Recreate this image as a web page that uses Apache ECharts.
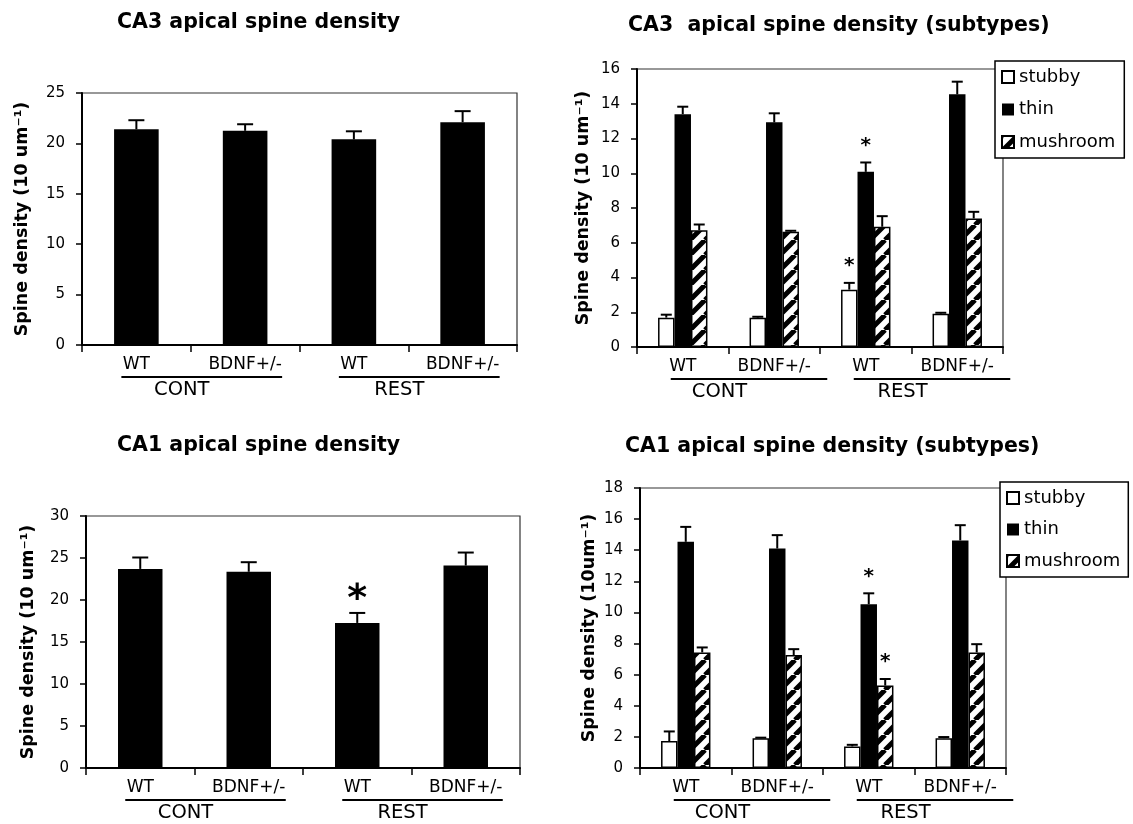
<!DOCTYPE html>
<html><head><meta charset="utf-8">
<script src="https://cdn.jsdelivr.net/npm/echarts@6/dist/echarts.min.js"></script>
<style>html,body{margin:0;padding:0;background:#fff}#c{width:1133px;height:824px}</style>
</head><body><div id="c"></div>
<script>
// ---------- DATA ----------
const categories = ['WT', 'BDNF+/-', 'WT', 'BDNF+/-'];
const groups = ['CONT', 'REST'];
const subtypeNames = ['stubby', 'thin', 'mushroom'];

// CA3 apical spine density
const ca3Mean = [21.4, 21.25, 20.4, 22.1];
const ca3Err  = [0.9, 0.65, 0.8, 1.1];
const ca3Sig  = [0, 0, 0, 0];

// CA3 subtypes
const ca3StubbyMean = [1.69, 1.69, 3.30, 1.92];
const ca3StubbyErr  = [0.17, 0.05, 0.39, 0.05];
const ca3StubbySig  = [0, 0, 1, 0];
const ca3ThinMean   = [13.4, 12.93, 10.08, 14.54];
const ca3ThinErr    = [0.43, 0.52, 0.54, 0.73];
const ca3ThinSig    = [0, 0, 1, 0];
const ca3MushMean   = [6.72, 6.63, 6.92, 7.40];
const ca3MushErr    = [0.33, 0.06, 0.61, 0.38];
const ca3MushSig    = [0, 0, 0, 0];

// CA1 apical spine density
const ca1Mean = [23.7, 23.36, 17.27, 24.1];
const ca1Err  = [1.36, 1.14, 1.19, 1.55];
const ca1Sig  = [0, 0, 1, 0];

// CA1 subtypes
const ca1StubbyMean = [1.73, 1.92, 1.39, 1.92];
const ca1StubbyErr  = [0.62, 0.03, 0.10, 0.07];
const ca1StubbySig  = [0, 0, 0, 0];
const ca1ThinMean   = [14.54, 14.11, 10.53, 14.63];
const ca1ThinErr    = [0.96, 0.86, 0.70, 0.98];
const ca1ThinSig    = [0, 0, 1, 0];
const ca1MushMean   = [7.43, 7.26, 5.30, 7.43];
const ca1MushErr    = [0.32, 0.38, 0.42, 0.53];
const ca1MushSig    = [0, 0, 1, 0];

// axis ticks
const ca3Axis = {max: 25, interval: 5};
const ca3SubAxis = {max: 16, interval: 2};
const ca1Axis = {max: 30, interval: 5};
const ca1SubAxis = {max: 18, interval: 2};

// ---------- STYLE ----------
const FONT = 'DejaVu Sans';
function hatchCanvas() {
  const s = 15, c = document.createElement('canvas');
  c.width = s; c.height = s;
  const g = c.getContext('2d');
  g.fillStyle = '#fff'; g.fillRect(0, 0, s, s);
  g.strokeStyle = '#000'; g.lineWidth = 5;
  g.beginPath();
  for (let k = -1; k <= 1; k++) { g.moveTo(k * s, s); g.lineTo(k * s + s, 0); }
  g.stroke();
  return c;
}
const hatch = {image: hatchCanvas(), repeat: 'repeat'};

const grids = [
  {left: 82, top: 93, width: 435, height: 252},
  {left: 637, top: 69, width: 366, height: 278},
  {left: 86, top: 516, width: 434, height: 252},
  {left: 640, top: 488, width: 366, height: 280}
];
const yNames = ['Spine density (10 um\u207B\u00B9)', 'Spine density (10 um\u207B\u00B9)',
                'Spine density (10 um\u207B\u00B9)', 'Spine density (10um\u207B\u00B9)'];
const yGaps = [51, 45, 49, 42];
const yAxes = [ca3Axis, ca3SubAxis, ca1Axis, ca1SubAxis];
const titles = [
  {text: 'CA3 apical spine density', left: 117, top: 12},
  {text: 'CA3  apical spine density (subtypes)', left: 628, top: 15},
  {text: 'CA1 apical spine density', left: 117, top: 435},
  {text: 'CA1 apical spine density (subtypes)', left: 625, top: 436}
];

function errSeries(p, means, errs, sig, k, n, frac, capHalf, starSize) {
  return {
    type: 'custom', xAxisIndex: p, yAxisIndex: p, z: 5, silent: true,
    data: means.map((m, i) => [i, m, m + errs[i], sig[i]]),
    encode: {x: 0, y: 1},
    renderItem(params, api) {
      const i = api.value(0);
      const base = api.coord([i, api.value(1)]);
      const top = api.coord([i, api.value(2)]);
      const band = api.size([1, 0])[0];
      const x = base[0] + (k - (n - 1) / 2) * frac * band;
      const ch = [
        {type: 'line', shape: {x1: x, y1: base[1], x2: x, y2: top[1]}, style: {stroke: '#000', lineWidth: 2}},
        {type: 'line', shape: {x1: x - capHalf, y1: top[1], x2: x + capHalf, y2: top[1]}, style: {stroke: '#000', lineWidth: 2}}
      ];
      if (api.value(3)) {
        ch.push({type: 'text', style: {text: '*', x: x, y: top[1] - 22 + 0.25 * starSize,
          fontSize: starSize, fontWeight: 'bold', fontFamily: FONT, fill: '#000',
          align: 'center', verticalAlign: 'middle'}});
      }
      return {type: 'group', children: ch};
    }
  };
}

const series = [];
// single panels
[[0, ca3Mean, ca3Err, ca3Sig], [2, ca1Mean, ca1Err, ca1Sig]].forEach(([p, m, e, s]) => {
  series.push({type: 'bar', name: 'density', xAxisIndex: p, yAxisIndex: p, data: m,
    barWidth: '41%', itemStyle: {color: '#000'}, silent: true});
  series.push(errSeries(p, m, e, s, 0, 1, 0.41, 8, 38));
});
// subtype panels
const subStyles = [
  {color: '#fff', borderColor: '#000', borderWidth: 1.5},
  {color: '#000', borderColor: '#000', borderWidth: 0},
  {color: hatch, borderColor: '#000', borderWidth: 1.5}
];
[[1, [ca3StubbyMean, ca3ThinMean, ca3MushMean], [ca3StubbyErr, ca3ThinErr, ca3MushErr], [ca3StubbySig, ca3ThinSig, ca3MushSig]],
 [3, [ca1StubbyMean, ca1ThinMean, ca1MushMean], [ca1StubbyErr, ca1ThinErr, ca1MushErr], [ca1StubbySig, ca1ThinSig, ca1MushSig]]]
.forEach(([p, ms, es, ss]) => {
  ms.forEach((m, k) => {
    series.push({type: 'bar', name: subtypeNames[k], xAxisIndex: p, yAxisIndex: p, data: m,
      barWidth: '18%', barGap: '0%', itemStyle: subStyles[k], silent: true});
  });
  ms.forEach((m, k) => series.push(errSeries(p, m, es[k], ss[k], k, 3, 0.18, 5.5, 20)));
});

const legendBase = {
  data: subtypeNames, orient: 'vertical', icon: 'rect', itemWidth: 12, itemHeight: 12,
  backgroundColor: '#fff', borderColor: '#000', borderWidth: 1.5, z: 10,
  selectedMode: false,
  textStyle: {fontFamily: FONT, fontSize: 18, color: '#000', lineHeight: 18}
};

const option = {
  animation: false,
  backgroundColor: '#fff',
  title: titles.map(t => ({text: t.text, left: t.left, top: t.top, padding: 0,
    textStyle: {fontFamily: FONT, fontWeight: 'bold', fontSize: 20.5, color: '#000'}})),
  grid: grids.map(g => Object.assign({show: true, borderColor: '#333', borderWidth: 1.2,
    backgroundColor: 'transparent', containLabel: false, outerBoundsMode: 'none'}, g)),
  legend: [
    Object.assign({left: 995, top: 61, itemGap: 14.5, padding: [7, 9, 7, 6]}, legendBase),
    Object.assign({left: 1000, top: 482, itemGap: 13.5, padding: [7, 8, 7, 6]}, legendBase)
  ],
  xAxis: grids.map((g, p) => ({
    type: 'category', gridIndex: p, data: categories,
    axisLine: {lineStyle: {color: '#000', width: 2}},
    axisTick: {show: true, length: 7, lineStyle: {color: '#000', width: 1.5}},
    axisLabel: {fontFamily: FONT, fontSize: 17, color: '#000', margin: 11, interval: 0}
  })),
  yAxis: grids.map((g, p) => ({
    type: 'value', gridIndex: p, min: 0, max: yAxes[p].max, interval: yAxes[p].interval,
    axisLine: {show: true, lineStyle: {color: '#000', width: 2}},
    axisTick: {show: true, length: 6, lineStyle: {color: '#000', width: 1.5}},
    splitLine: {show: false},
    axisLabel: {fontFamily: FONT, fontSize: 15, color: '#000', margin: 17},
    name: yNames[p], nameLocation: 'middle', nameRotate: 90, nameGap: yGaps[p],
    nameTextStyle: {fontFamily: FONT, fontWeight: 'bold', fontSize: 17.5, color: '#000'}
  })),
  series: series
};

const chart = echarts.init(document.getElementById('c'), null, {renderer: 'canvas'});
chart.setOption(option);

// group labels (CONT / REST) with underlines
const underOff = [[-15, 37], [-12, 53], [-15, 37], [-12, 53]];
const gfx = [];
grids.forEach((g, p) => {
  const y0 = chart.convertToPixel({yAxisIndex: p}, 0);
  groups.forEach((name, gi) => {
    const c0 = chart.convertToPixel({xAxisIndex: p}, gi * 2);
    const c1 = chart.convertToPixel({xAxisIndex: p}, gi * 2 + 1);
    gfx.push({type: 'line', silent: true,
      shape: {x1: c0 + underOff[p][0], y1: y0 + 32, x2: c1 + underOff[p][1], y2: y0 + 32},
      style: {stroke: '#000', lineWidth: 2}});
    gfx.push({type: 'text', silent: true, x: (c0 + c1) / 2 - 9, y: y0 + 44.5,
      style: {text: name, fontFamily: FONT, fontSize: 19.5, fill: '#000', align: 'center', verticalAlign: 'middle'}});
  });
});
chart.setOption({graphic: gfx});
</script></body></html>
